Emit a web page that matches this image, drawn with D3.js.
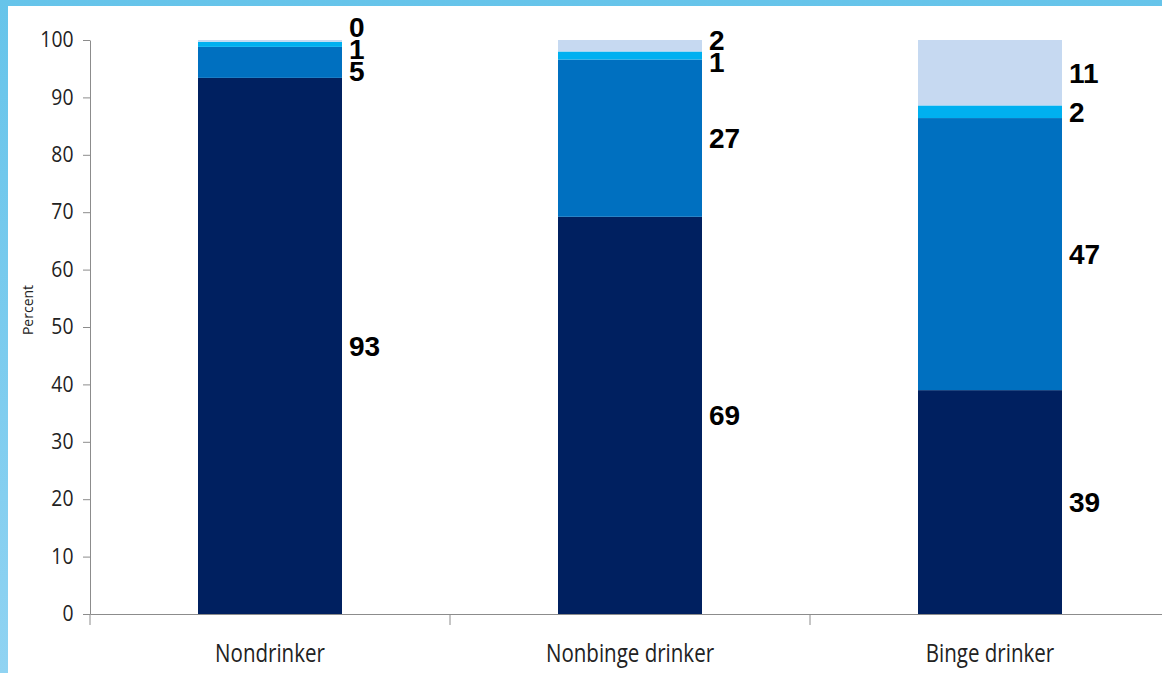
<!DOCTYPE html>
<html>
<head>
<meta charset="utf-8">
<script src="https://cdn.jsdelivr.net/npm/d3@7"></script>
<style>
  body { margin: 0; overflow: hidden; }
  svg { display: block; }
</style>
</head>
<body>
<div id="chart"></div>
<script>
// data (percent of each drinker group)
const categories = ["Nondrinker", "Nonbinge drinker", "Binge drinker"];
const seriesKeys = ["s1", "s2", "s3", "s4"];
const s1 = [93.4, 69.2, 39.0];
const s2 = [5.4, 27.4, 47.4];
const s3 = [0.9, 1.4, 2.2];
const s4 = [0.3, 2.0, 11.4];
const yTicks = [0, 10, 20, 30, 40, 50, 60, 70, 80, 90, 100];
const colors = ["#002060", "#0070c0", "#00b0f0", "#c6d9f1"];

const rows = categories.map((c, i) => ({ cat: c, s1: s1[i], s2: s2[i], s3: s3[i], s4: s4[i] }));

const svgWidth = 1162, svgHeight = 673;
const margin = { top: 40, left: 90, bottom: 59 };
const plotRight = 1170;

const svg = d3.select("#chart").append("svg")
    .attr("width", svgWidth)
    .attr("height", svgHeight);

// blue frame + white panel
const grad = svg.append("defs").append("linearGradient")
    .attr("id", "frame").attr("x1", 0).attr("y1", 0).attr("x2", 0).attr("y2", 1);
grad.append("stop").attr("offset", "0%").attr("stop-color", "#66c4ea");
grad.append("stop").attr("offset", "100%").attr("stop-color", "#90d3f2");
svg.append("rect").attr("width", svgWidth).attr("height", svgHeight).attr("fill", "url(#frame)");
svg.append("rect").attr("x", 8).attr("y", 6)
    .attr("width", svgWidth - 8).attr("height", svgHeight - 6).attr("fill", "#fff");

const x = d3.scaleBand()
    .domain(categories)
    .range([margin.left, plotRight])
    .paddingInner(0.6)
    .paddingOuter(0.3);

const y = d3.scaleLinear()
    .domain([0, 100])
    .range([svgHeight - margin.bottom, margin.top]);

const stacked = d3.stack().keys(seriesKeys)(rows);

// bars
stacked.forEach((layer, k) => {
  svg.append("g").selectAll("rect")
    .data(layer)
    .join("rect")
    .attr("x", d => x(d.data.cat))
    .attr("y", d => y(d[1]))
    .attr("width", x.bandwidth())
    .attr("height", d => y(d[0]) - y(d[1]))
    .attr("fill", colors[k]);
});

// y axis
const yAxis = svg.append("g")
    .attr("transform", `translate(${margin.left},0)`)
    .call(d3.axisLeft(y).tickValues(yTicks).tickSize(7).tickSizeOuter(0).tickPadding(11));
yAxis.select(".domain").attr("stroke", "#8c8c8c");
yAxis.selectAll(".tick line").attr("stroke", "#8c8c8c");
yAxis.selectAll(".tick text")
    .attr("font-family", "Open Sans, sans-serif")
    .attr("font-size", 21)
    .attr("fill", "#222")
    .attr("transform", "scale(0.92,1)");

// x axis: line plus ticks on the category boundaries
const xAxis = svg.append("g")
    .attr("transform", `translate(0,${y(0)})`)
    .call(d3.axisBottom(x).tickSize(0).tickPadding(30));
xAxis.select(".domain").attr("stroke", "#8c8c8c");
xAxis.selectAll(".tick text")
    .attr("font-family", "Open Sans, sans-serif")
    .attr("font-size", 26)
    .attr("fill", "#222")
    .attr("transform", "scale(0.79,1)");

const bounds = d3.range(categories.length + 1).map(i => margin.left + i * x.step());
xAxis.selectAll(".bound")
    .data(bounds)
    .join("line")
    .attr("class", "bound")
    .attr("x1", d => d).attr("x2", d => d)
    .attr("y1", 0).attr("y2", 11)
    .attr("stroke", "#8c8c8c");

svg.append("text")
    .attr("transform", `translate(33,${(y(0) + y(100)) / 2 - 17}) rotate(-90)`)
    .attr("text-anchor", "middle")
    .attr("font-family", "Open Sans, sans-serif")
    .attr("font-size", 14)
    .attr("fill", "#222")
    .text("Percent");

// value labels right of each bar, spread apart where they would collide
const gap = 22;
categories.forEach((cat, i) => {
  let labs = stacked.map(layer => ({
    v: layer[i][1] - layer[i][0],
    y: y((layer[i][0] + layer[i][1]) / 2)
  }));
  // group overlapping labels into clusters centred on their mean
  labs.sort((a, b) => b.y - a.y);
  let clusters = labs.map(l => ({ items: [l], c: l.y }));
  let merged = true;
  while (merged) {
    merged = false;
    for (let j = 0; j < clusters.length - 1; j++) {
      const a = clusters[j], b = clusters[j + 1];
      const aTop = a.c - (a.items.length - 1) * gap / 2;
      const bBot = b.c + (b.items.length - 1) * gap / 2;
      if (aTop - bBot < gap) {
        const items = a.items.concat(b.items);
        clusters.splice(j, 2, { items: items, c: d3.mean(items, d => d.y) });
        merged = true;
        break;
      }
    }
  }
  clusters.forEach(cl => {
    cl.items.forEach((l, n) => {
      l.pos = cl.c + ((cl.items.length - 1) / 2 - n) * gap;
    });
  });

  svg.append("g").selectAll("text")
    .data(labs)
    .join("text")
    .attr("x", x(cat) + x.bandwidth() + 7)
    .attr("y", d => d.pos)
    .attr("dy", "0.36em")
    .attr("font-family", "Liberation Sans, Arial, sans-serif")
    .attr("font-weight", "bold")
    .attr("font-size", 28)
    .attr("fill", "#000")
    .text(d => Math.round(d.v));
});
</script>
</body>
</html>
